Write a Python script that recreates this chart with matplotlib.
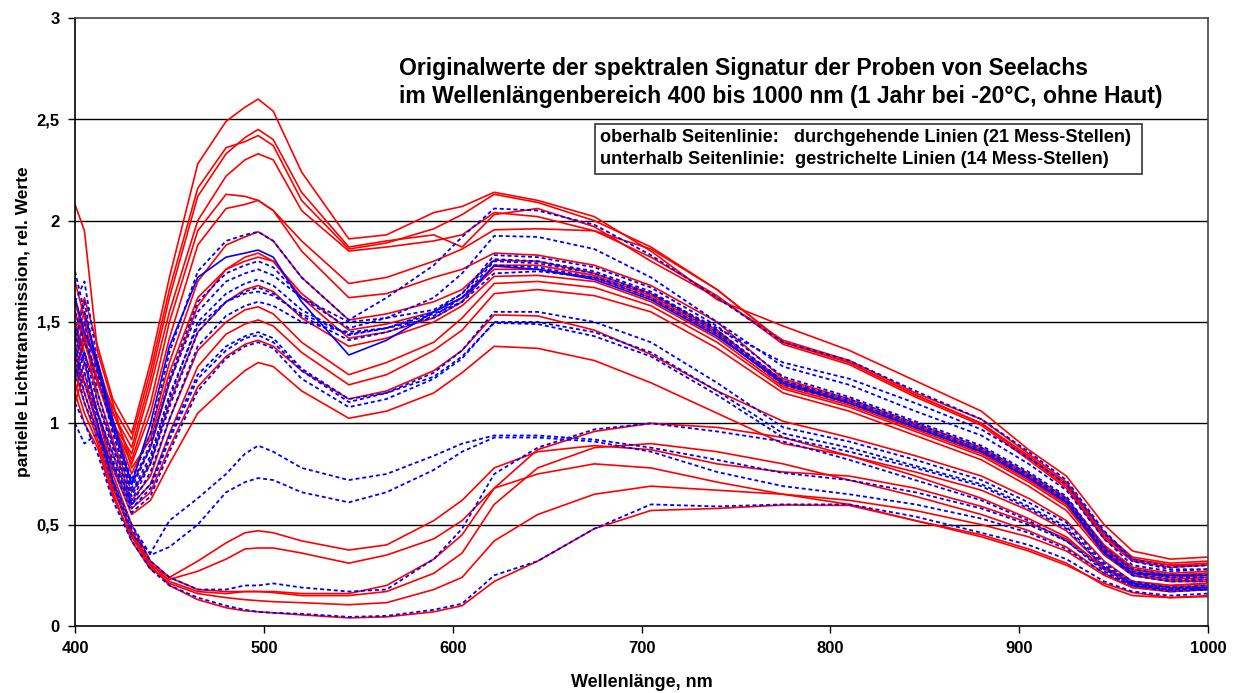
import numpy as np
import matplotlib.pyplot as plt
from matplotlib.patches import Rectangle

plt.rcParams['font.family'] = ['Liberation Sans', 'DejaVu Sans']
plt.rcParams['font.weight'] = 'bold'

# Stuetzstellen der Spektren (nm)
wl = [400, 405, 412, 420, 430, 440, 450, 465, 480, 490, 497, 505, 520, 545, 565,
      590, 605, 622, 645, 675, 705, 740, 775, 810, 845, 880, 905, 925, 945, 960, 980, 1000]

# oberhalb Seitenlinie, durchgehende Linien (rot)
oben_rot = [
    [1.45, 1.62, 1.38, 1.12, 0.95, 1.30, 1.72, 2.28, 2.49, 2.56, 2.60, 2.54, 2.24, 1.91, 1.93, 2.04,
     2.07, 2.14, 2.10, 2.02, 1.85, 1.61, 1.48, 1.36, 1.21, 1.06, 0.87, 0.74, 0.50, 0.37, 0.33, 0.34],
    [1.70, 1.52, 1.30, 1.05, 0.88, 1.22, 1.62, 2.12, 2.33, 2.41, 2.45, 2.40, 2.14, 1.87, 1.90, 1.93,
     1.87, 2.03, 2.06, 1.97, 1.80, 1.62, 1.41, 1.31, 1.15, 1.02, 0.85, 0.71, 0.46, 0.34, 0.31, 0.32],
    [1.35, 1.50, 1.25, 1.08, 0.92, 1.26, 1.66, 2.16, 2.36, 2.39, 2.42, 2.37, 2.10, 1.86, 1.89, 1.96,
     2.03, 2.13, 2.09, 2.00, 1.87, 1.66, 1.40, 1.30, 1.14, 1.00, 0.83, 0.69, 0.44, 0.33, 0.30, 0.31],
    [1.55, 1.40, 1.20, 1.00, 0.85, 1.18, 1.55, 2.00, 2.22, 2.30, 2.33, 2.30, 2.05, 1.85, 1.87, 1.90,
     1.93, 2.04, 2.02, 1.95, 1.82, 1.63, 1.39, 1.29, 1.13, 0.99, 0.82, 0.68, 0.43, 0.32, 0.29, 0.30],
    [1.30, 1.45, 1.28, 1.06, 0.82, 1.10, 1.50, 1.95, 2.13, 2.12, 2.10, 2.05, 1.90, 1.69, 1.72, 1.80,
     1.86, 1.955, 1.96, 1.95, 1.86, 1.66, 1.40, 1.30, 1.14, 1.00, 0.84, 0.70, 0.45, 0.33, 0.30, 0.30],
    [1.60, 1.42, 1.22, 1.00, 0.80, 1.05, 1.42, 1.88, 2.06, 2.08, 2.10, 2.05, 1.85, 1.62, 1.64, 1.72,
     1.76, 1.84, 1.83, 1.78, 1.68, 1.50, 1.22, 1.12, 1.00, 0.88, 0.75, 0.63, 0.40, 0.29, 0.26, 0.27],
    [1.40, 1.55, 1.30, 1.02, 0.75, 0.95, 1.30, 1.70, 1.88, 1.92, 1.945, 1.90, 1.72, 1.51, 1.54, 1.60,
     1.66, 1.805, 1.80, 1.74, 1.64, 1.46, 1.20, 1.11, 0.99, 0.87, 0.74, 0.62, 0.39, 0.28, 0.25, 0.26],
    [1.25, 1.40, 1.20, 0.98, 0.70, 0.88, 1.20, 1.58, 1.76, 1.82, 1.84, 1.80, 1.64, 1.46, 1.49, 1.55,
     1.62, 1.76, 1.76, 1.72, 1.62, 1.44, 1.19, 1.10, 0.98, 0.86, 0.73, 0.61, 0.38, 0.27, 0.24, 0.25],
    [1.50, 1.35, 1.15, 0.92, 0.66, 0.80, 1.10, 1.45, 1.60, 1.66, 1.68, 1.65, 1.52, 1.38, 1.42, 1.50,
     1.58, 1.725, 1.73, 1.70, 1.60, 1.42, 1.18, 1.09, 0.97, 0.85, 0.72, 0.60, 0.37, 0.26, 0.23, 0.24],
    [1.20, 1.45, 1.10, 0.90, 0.62, 0.74, 1.02, 1.36, 1.50, 1.56, 1.575, 1.54, 1.40, 1.24, 1.30, 1.40,
     1.52, 1.69, 1.70, 1.67, 1.58, 1.40, 1.17, 1.08, 0.96, 0.84, 0.71, 0.59, 0.36, 0.25, 0.22, 0.23],
    [1.30, 1.20, 1.05, 0.85, 0.60, 0.70, 0.95, 1.28, 1.44, 1.49, 1.51, 1.48, 1.35, 1.19, 1.24, 1.36,
     1.46, 1.64, 1.66, 1.63, 1.55, 1.37, 1.15, 1.06, 0.94, 0.82, 0.69, 0.57, 0.35, 0.25, 0.22, 0.22],
    [1.15, 1.30, 1.05, 0.80, 0.58, 0.66, 0.88, 1.18, 1.33, 1.39, 1.41, 1.38, 1.26, 1.12, 1.16, 1.26,
     1.36, 1.535, 1.53, 1.46, 1.34, 1.16, 1.01, 0.93, 0.84, 0.74, 0.63, 0.52, 0.32, 0.22, 0.20, 0.21],
    [1.10, 1.25, 0.98, 0.78, 0.55, 0.62, 0.80, 1.05, 1.18, 1.26, 1.30, 1.28, 1.16, 1.025, 1.06, 1.15,
     1.25, 1.38, 1.37, 1.31, 1.20, 1.05, 0.90, 0.84, 0.76, 0.67, 0.57, 0.47, 0.29, 0.20, 0.18, 0.19],
    [2.08, 1.95, 1.35, 1.10, 0.78, 0.92, 1.25, 1.62, 1.76, 1.80, 1.82, 1.80, 1.62, 1.42, 1.45, 1.52,
     1.60, 1.78, 1.78, 1.73, 1.63, 1.45, 1.21, 1.11, 0.99, 0.87, 0.74, 0.62, 0.39, 0.28, 0.25, 0.26],
]

# die eine durchgehende blaue Linie
oben_blau = [1.62, 1.45, 1.30, 1.02, 0.70, 1.00, 1.38, 1.72, 1.82, 1.84, 1.855, 1.82, 1.60, 1.337, 1.41, 1.55,
             1.62, 1.776, 1.76, 1.71, 1.61, 1.43, 1.20, 1.10, 0.98, 0.86, 0.73, 0.61, 0.36, 0.26, 0.25, 0.25]

# unterhalb Seitenlinie, gestrichelt (obere Gruppe)
oben_gestr = [
    [1.55, 1.40, 1.25, 1.00, 0.72, 0.95, 1.35, 1.75, 1.90, 1.93, 1.945, 1.90, 1.72, 1.51, 1.62, 1.78,
     1.92, 2.06, 2.05, 1.98, 1.83, 1.62, 1.40, 1.31, 1.16, 1.02, 0.86, 0.72, 0.47, 0.33, 0.29, 0.30],
    [1.40, 1.60, 1.25, 0.95, 0.68, 0.88, 1.22, 1.60, 1.74, 1.78, 1.80, 1.77, 1.62, 1.47, 1.52, 1.62,
     1.74, 1.925, 1.92, 1.86, 1.72, 1.50, 1.28, 1.19, 1.06, 0.94, 0.80, 0.67, 0.43, 0.30, 0.27, 0.28],
    [1.30, 1.50, 1.15, 0.90, 0.64, 0.82, 1.12, 1.50, 1.64, 1.69, 1.71, 1.68, 1.56, 1.435, 1.47, 1.55,
     1.64, 1.81, 1.80, 1.75, 1.65, 1.46, 1.21, 1.12, 1.00, 0.88, 0.75, 0.63, 0.38, 0.27, 0.24, 0.24],
    [1.20, 1.35, 1.10, 0.88, 0.62, 0.80, 1.08, 1.45, 1.60, 1.65, 1.67, 1.64, 1.53, 1.41, 1.45, 1.53,
     1.62, 1.80, 1.79, 1.74, 1.64, 1.45, 1.20, 1.11, 0.99, 0.87, 0.74, 0.62, 0.37, 0.26, 0.23, 0.23],
    [1.75, 1.55, 1.28, 0.98, 0.70, 0.90, 1.20, 1.55, 1.70, 1.74, 1.76, 1.73, 1.62, 1.50, 1.52, 1.56,
     1.64, 1.83, 1.82, 1.77, 1.67, 1.48, 1.23, 1.13, 1.01, 0.89, 0.76, 0.64, 0.39, 0.28, 0.25, 0.25],
    [1.45, 1.25, 1.05, 0.85, 0.60, 0.76, 1.02, 1.38, 1.53, 1.58, 1.60, 1.58, 1.50, 1.45, 1.47, 1.52,
     1.60, 1.78, 1.77, 1.72, 1.62, 1.44, 1.19, 1.10, 0.98, 0.86, 0.73, 0.61, 0.36, 0.25, 0.22, 0.22],
    [1.35, 1.15, 0.95, 0.80, 0.58, 0.68, 0.92, 1.22, 1.36, 1.42, 1.435, 1.40, 1.26, 1.105, 1.15, 1.25,
     1.36, 1.55, 1.55, 1.50, 1.40, 1.20, 0.98, 0.91, 0.82, 0.72, 0.61, 0.51, 0.31, 0.22, 0.19, 0.19],
    [1.00, 0.90, 0.95, 0.78, 0.56, 0.64, 0.86, 1.16, 1.32, 1.38, 1.40, 1.37, 1.22, 1.08, 1.12, 1.22,
     1.32, 1.50, 1.50, 1.45, 1.35, 1.16, 0.95, 0.88, 0.79, 0.70, 0.59, 0.49, 0.30, 0.21, 0.18, 0.18],
    [1.50, 1.30, 1.05, 0.82, 0.60, 0.70, 0.94, 1.24, 1.38, 1.43, 1.45, 1.42, 1.27, 1.12, 1.15, 1.23,
     1.33, 1.495, 1.49, 1.43, 1.33, 1.14, 0.93, 0.86, 0.78, 0.69, 0.58, 0.48, 0.29, 0.20, 0.17, 0.18],
    [1.60, 1.70, 1.30, 0.96, 0.66, 0.84, 1.14, 1.48, 1.60, 1.64, 1.65, 1.63, 1.54, 1.44, 1.47, 1.54,
     1.60, 1.74, 1.75, 1.72, 1.64, 1.47, 1.30, 1.22, 1.10, 0.97, 0.83, 0.70, 0.46, 0.32, 0.28, 0.28],
]

# untere Gruppe, durchgehend (rot)
unten_rot = [
    [1.35, 1.20, 0.98, 0.70, 0.45, 0.30, 0.24, 0.32, 0.41, 0.46, 0.47, 0.46, 0.42, 0.375, 0.40, 0.52,
     0.62, 0.78, 0.86, 0.89, 0.87, 0.80, 0.76, 0.74, 0.68, 0.59, 0.51, 0.43, 0.29, 0.22, 0.20, 0.21],
    [1.20, 1.05, 0.90, 0.66, 0.42, 0.28, 0.23, 0.27, 0.33, 0.38, 0.385, 0.385, 0.36, 0.31, 0.35, 0.43,
     0.52, 0.68, 0.75, 0.80, 0.78, 0.71, 0.65, 0.62, 0.57, 0.50, 0.44, 0.37, 0.25, 0.19, 0.17, 0.18],
    [1.45, 1.30, 1.05, 0.75, 0.50, 0.32, 0.24, 0.18, 0.17, 0.17, 0.17, 0.17, 0.16, 0.16, 0.20, 0.33,
     0.45, 0.68, 0.87, 0.96, 1.00, 0.98, 0.93, 0.84, 0.74, 0.63, 0.53, 0.44, 0.28, 0.21, 0.19, 0.20],
    [1.15, 1.00, 0.88, 0.64, 0.44, 0.29, 0.21, 0.16, 0.14, 0.13, 0.125, 0.12, 0.115, 0.105, 0.115, 0.18,
     0.24, 0.42, 0.55, 0.65, 0.69, 0.67, 0.65, 0.60, 0.52, 0.45, 0.38, 0.31, 0.20, 0.15, 0.14, 0.15],
    [1.25, 1.10, 0.92, 0.68, 0.46, 0.30, 0.20, 0.13, 0.09, 0.075, 0.07, 0.065, 0.055, 0.04, 0.045, 0.07,
     0.10, 0.22, 0.32, 0.48, 0.57, 0.58, 0.597, 0.595, 0.52, 0.44, 0.37, 0.30, 0.21, 0.165, 0.14, 0.145],
    [1.30, 1.15, 0.95, 0.70, 0.47, 0.31, 0.22, 0.17, 0.16, 0.17, 0.17, 0.165, 0.15, 0.15, 0.17, 0.26,
     0.36, 0.60, 0.78, 0.88, 0.90, 0.86, 0.80, 0.72, 0.64, 0.55, 0.47, 0.39, 0.26, 0.19, 0.17, 0.18],
]

# untere Gruppe, gestrichelt
unten_gestr = [
    [1.30, 1.10, 0.95, 0.70, 0.45, 0.36, 0.52, 0.63, 0.75, 0.85, 0.89, 0.86, 0.78, 0.72, 0.75, 0.84,
     0.90, 0.94, 0.94, 0.92, 0.88, 0.82, 0.755, 0.72, 0.66, 0.58, 0.50, 0.42, 0.28, 0.21, 0.19, 0.20],
    [1.25, 1.35, 1.00, 0.72, 0.50, 0.35, 0.39, 0.50, 0.66, 0.71, 0.73, 0.72, 0.66, 0.61, 0.66, 0.77,
     0.86, 0.93, 0.93, 0.91, 0.86, 0.76, 0.69, 0.65, 0.60, 0.53, 0.46, 0.38, 0.26, 0.20, 0.18, 0.19],
    [1.40, 1.20, 1.00, 0.72, 0.48, 0.32, 0.24, 0.18, 0.18, 0.20, 0.20, 0.21, 0.19, 0.17, 0.18, 0.33,
     0.48, 0.75, 0.88, 0.97, 1.00, 0.96, 0.91, 0.82, 0.72, 0.62, 0.52, 0.42, 0.27, 0.20, 0.18, 0.19],
    [1.10, 1.00, 0.85, 0.62, 0.42, 0.28, 0.20, 0.14, 0.10, 0.08, 0.07, 0.065, 0.06, 0.045, 0.05, 0.08,
     0.11, 0.25, 0.32, 0.48, 0.60, 0.59, 0.60, 0.60, 0.54, 0.46, 0.40, 0.33, 0.22, 0.17, 0.15, 0.16],
]

fig = plt.figure(figsize=(12.36, 6.93), dpi=100)
ax = fig.add_axes([75 / 1236, 1 - 626 / 693, (1208 - 75) / 1236, (626 - 18) / 693])

red = dict(color='#ff0000', lw=1.2, solid_joinstyle='round')
dash = dict(color='#0000ff', lw=1.3, ls=(0, (2.2, 1.6)))

for y in oben_rot:
    ax.plot(wl, y, **red)
for y in unten_rot:
    ax.plot(wl, y, **red)
for y in oben_gestr:
    ax.plot(wl, y, **dash)
for y in unten_gestr:
    ax.plot(wl, y, **dash)
ax.plot(wl, oben_blau, color='#0000ff', lw=1.2)

ax.set_xlim(400, 1000)
ax.set_ylim(0, 3)
ax.set_xticks(np.arange(400, 1001, 100))
ax.set_yticks(np.arange(0, 3.01, 0.5))
ax.set_yticklabels(['0', '0,5', '1', '1,5', '2', '2,5', '3'])
for g in [0.5, 1.0, 1.5, 2.0, 2.5]:
    ax.axhline(g, color='black', lw=1.0, zorder=0)

ax.tick_params(axis='both', direction='out', length=5, width=1, labelsize=12, pad=6)
for lab in ax.get_xticklabels() + ax.get_yticklabels():
    lab.set_fontweight('bold')
for s in ['left', 'bottom']:
    ax.spines[s].set_color('black')
    ax.spines[s].set_linewidth(1.2)
for s in ['top', 'right']:
    ax.spines[s].set_color('#444444')
    ax.spines[s].set_linewidth(1.2)

ax.set_xlabel('Wellenlänge, nm', fontsize=13, fontweight='bold')
ax.set_ylabel('partielle Lichttransmission, rel. Werte', fontsize=12.5, fontweight='bold')
ax.xaxis.set_label_coords(0.5, -(674 - 626) / 608)
ax.yaxis.set_label_coords(-(75 - 31) / 1133, 0.5)

fig.text(399 / 1236, 1 - 68 / 693, 'Originalwerte der spektralen Signatur der Proben von Seelachs',
         fontsize=16.6, fontweight='bold', va='center', ha='left')
fig.text(399 / 1236, 1 - 97 / 693, 'im Wellenlängenbereich 400 bis 1000 nm (1 Jahr bei -20°C, ohne Haut)',
         fontsize=16.6, fontweight='bold', va='center', ha='left')

# Legendenkasten
fig.patches.append(Rectangle((595 / 1236, 1 - 174 / 693), (1142 - 595) / 1236, 50 / 693,
                             transform=fig.transFigure, facecolor='white', edgecolor='#333333', lw=1.2))
fig.text(600 / 1236, 1 - 137 / 693, 'oberhalb Seitenlinie:   durchgehende Linien (21 Mess-Stellen)',
         fontsize=13.1, fontweight='bold', va='center')
fig.text(600 / 1236, 1 - 160 / 693, 'unterhalb Seitenlinie:  gestrichelte Linien (14 Mess-Stellen)',
         fontsize=13.1, fontweight='bold', va='center')

fig.savefig('out.png', dpi=100)
